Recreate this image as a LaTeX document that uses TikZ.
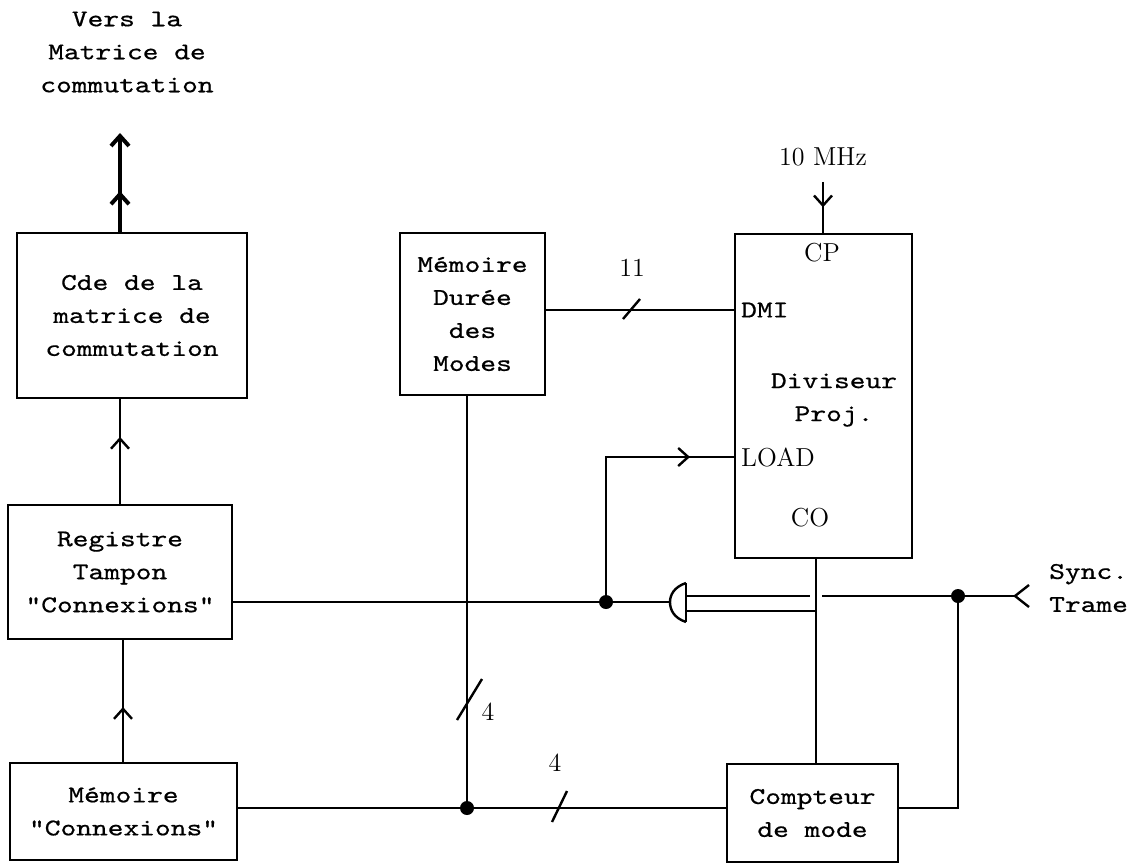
\documentclass[tikz,border=0pt]{standalone}
\usepackage{fontspec}
\newfontfamily\tw{lmmono10-regular.otf}[FakeStretch=1.25,FakeBold=0.6]
\usetikzlibrary{arrows.meta,decorations.markings}
\newcommand\twfont{\tw\fontsize{12}{16.5}\selectfont}
\newcommand\rmfnt{\rmfamily\fontsize{13}{15}\selectfont}
\begin{document}
\begin{tikzpicture}[x=0.5pt,y=-0.5pt, line width=1.2pt,
  box/.style={draw, line width=1.4pt, font=\twfont, align=center, inner sep=0pt},
  lbl/.style={font=\twfont, align=center, inner sep=0pt},
  num/.style={font=\rmfnt, inner sep=0pt},
  midtip/.style={postaction={decorate}, decoration={markings, mark=at position #1 with {\arrow{Straight Barb[length=5pt,width=9pt]}}}},
  endtip/.style={-{Straight Barb[length=5pt,width=9pt]}}
]
\useasboundingbox (0,0) rectangle (1143,866);

% nodes
\node[lbl] (vers) at (127,52) {Vers la\\Matrice de\\commutation};
\node[box, minimum width=115pt, minimum height=82.5pt] (cde) at (132,315.5) {Cde de la\\matrice de\\commutation};
\node[box, minimum width=112pt, minimum height=67pt] (reg) at (120,572) {Registre\\Tampon\\"Connexions"};
\node[box, minimum width=113.5pt, minimum height=48.5pt] (memc) at (123.5,811.5) {Mémoire\\"Connexions"};
\node[box, minimum width=72.5pt, minimum height=81pt] (memd) at (472.5,314) {Mémoire\\Durée\\des\\Modes};
\node[box, minimum width=88.5pt, minimum height=162pt] (div) at (823.5,396) {};
\node[lbl] (divt) at (834,400) {Diviseur\\Proj.};
\node[num] (cp) at (822,253) {CP};
\node[lbl, anchor=west] (dmi) at (740,310) {DMI};
\node[num, anchor=west] (load) at (740,457) {LOAD};
\node[num] (co) at (810,518) {CO};
\node[box, minimum width=85.5pt, minimum height=49pt] (cpt) at (812.5,813) {Compteur\\de mode};
\node[num] (mhz) at (823,157) {10 MHz};
\node[num] (n11) at (632,268) {11};
\node[num] (n4a) at (488,712) {4};
\node[num] (n4b) at (555,763) {4};
\node[lbl, align=left, anchor=west] (sync) at (1048,588) {Sync.\\Trame};

% coordinates
\coordinate (topend) at (120,133);
\coordinate (lowx) at (123,700);
\coordinate (j1) at (467,808);
\coordinate (j2) at (606,602);
\coordinate (j3) at (958,596);
\coordinate (gout) at (670,602);
\coordinate (gtop) at (686,583);
\coordinate (gbot) at (686,622);
\coordinate (gin1) at (686,596);
\coordinate (gin2) at (686,611);
\coordinate (cox) at (816,600);
\coordinate (syncend) at (1015,596);
\coordinate (clk) at (823,182);

% left column
\draw[line width=2pt, endtip, midtip=0.41] (cde.north -| topend) -- (topend);
\draw[midtip=0.64] (reg.north) -- (reg.north |- cde.south);
\draw[midtip=0.45] (memc.north -| lowx) -- (reg.south -| lowx);

% DMI bus
\draw (memd.east |- dmi.west) -- (div.west |- dmi.west);
\draw (623,319) -- (640,299);

% memoire duree to junction
\draw (memd.south -| j1) -- (j1);
\draw (457,720) -- (482,679);
\draw (memc.east |- j1) -- (j1) -- (cpt.west |- j1);
\draw (552,822) -- (567,791);
\fill (j1) circle (3.5pt);

% registre / load
\draw (reg.east |- j2) -- (j2) -- (gout);
\fill (j2) circle (3.5pt);
\draw[midtip=0.84] (j2) |- (div.west |- load.west);

% gate
\draw (gtop) -- (gbot);
\draw (gtop) .. controls (674,587) and (670,595) .. (gout) .. controls (670,610) and (674,618) .. (gbot);
\draw (gin1) -- ([xshift=-3pt]gin1 -| cox);
\draw ([xshift=3pt]gin1 -| cox) -- (j3) -- (syncend);
\draw (gin2) -- (gin2 -| cox);
\draw (div.south -| cox) -- (cpt.north -| cox);
\draw (j3) |- (cpt.east |- j1);
\fill (j3) circle (3.5pt);
\draw ([shift={(14,-11)}]syncend) -- (syncend) -- ([shift={(14,11)}]syncend);

% clock
\draw[midtip=0.5] (clk) -- (div.north -| clk);
\end{tikzpicture}
\end{document}
